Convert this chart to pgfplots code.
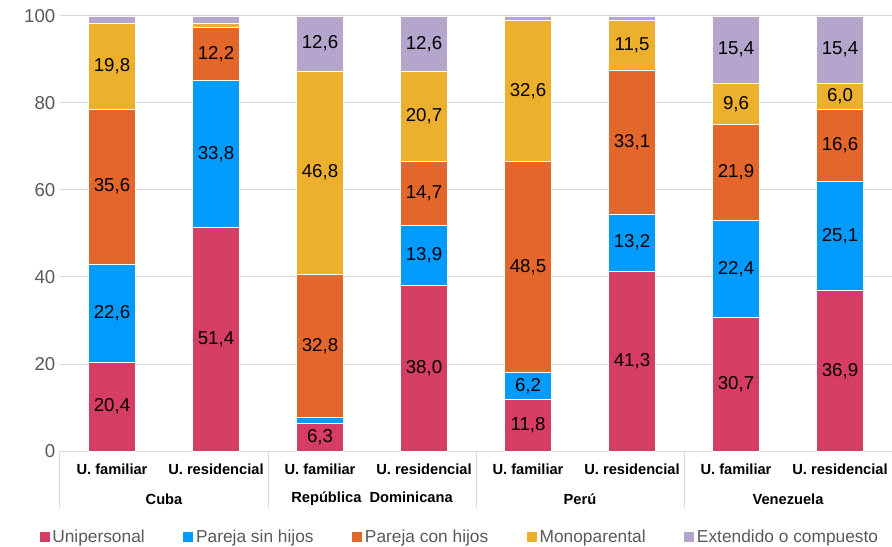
\documentclass[border=0pt]{standalone}
\usepackage{pgfplots}
\pgfplotsset{compat=1.18}
\usepackage{pgfplotstable}
\usepackage{fontspec}
\setmainfont{Liberation Sans}
\definecolor{cuni}{HTML}{D63D62}
\definecolor{csin}{HTML}{009BFC}
\definecolor{ccon}{HTML}{E3662B}
\definecolor{cmono}{HTML}{EDB02D}
\definecolor{cext}{HTML}{B4A5CC}
\definecolor{cgrid}{HTML}{D9D9D9}
\definecolor{tgrey}{HTML}{595959}

\pgfplotstableread{
x uni sin con mono ext
0 20.4 22.6 35.6 19.8 1.6
1 51.4 33.8 12.2 1.0 1.6
2 6.3 1.5 32.8 46.8 12.6
3 38.0 13.9 14.7 20.7 12.6
4 11.8 6.2 48.5 32.6 0.9
5 41.3 13.2 33.1 11.5 0.9
6 30.7 22.4 21.9 9.6 15.4
7 36.9 25.1 16.6 6.0 15.4
}\datatab

\pgfplotsset{
  segstyle/.style={fill=#1, draw=white, line width=0.4pt},
  calcfix/.code={%
    \pgfkeys{/pgf/fpu=true,/pgf/fpu/output format=fixed}%
    \pgfmathparse{\rawy}\global\let\rawfix\pgfmathresult
    \pgfkeys{/pgf/fpu=false}%
  },
}

\begin{document}
\begin{tikzpicture}
\begin{axis}[
  scale only axis, width=624pt, height=326.25pt,
  ybar stacked, bar width=35.25pt,
  xmin=-0.5, xmax=7.5, ymin=0, ymax=100,
  xtick={0,...,7},
  xticklabels={U. familiar, U. residencial, U. familiar, U. residencial, U. familiar, U. residencial, U. familiar, U. residencial},
  ytick={0,20,...,100},
  ymajorgrids, grid style={color=cgrid, line width=0.75pt},
  axis line style={draw=none},
  major tick length=0pt,
  x tick label style={font=\fontsize{11}{13}\selectfont\bfseries, anchor=center, yshift=-13.5pt},
  y tick label style={font=\fontsize{14}{16}\selectfont, color=tgrey},
  /pgf/number format/assume math mode=true,
  clip=false,
  nodes near coords={\ifdim\rawfix pt>3pt\pgfmathprintnumber[fixed,fixed zerofill,precision=1,use comma]{\rawfix}\fi},
  every node near coord/.append style={/pgfplots/calcfix, font=\fontsize{14}{16}\selectfont, text=black, anchor=center},
  legend style={at={(0.481,0)}, anchor=center, yshift=-64.5pt, draw=none, fill=none,
    font=\fontsize{13}{15}\selectfont, text=tgrey,
    /tikz/every even column/.append style={column sep=27pt}},
  legend columns=-1,
  legend image code/.code={\path[#1, draw=none] (0pt,-3.75pt) rectangle (7.5pt,3.75pt);},
]
\addplot[segstyle=cuni, visualization depends on={\thisrow{uni}\as\rawy}] table[x=x,y=uni]{\datatab};
\addplot[segstyle=csin, visualization depends on={\thisrow{sin}\as\rawy}] table[x=x,y=sin]{\datatab};
\addplot[segstyle=ccon, visualization depends on={\thisrow{con}\as\rawy}] table[x=x,y=con]{\datatab};
\addplot[segstyle=cmono, visualization depends on={\thisrow{mono}\as\rawy}] table[x=x,y=mono]{\datatab};
\addplot[segstyle=cext, visualization depends on={\thisrow{ext}\as\rawy}] table[x=x,y=ext]{\datatab};
\legend{Unipersonal, Pareja sin hijos, Pareja con hijos, Monoparental, Extendido o compuesto}

\draw[cgrid, line width=0.75pt] (axis cs:-0.5,0) -- ++(0pt,-43pt);
\draw[cgrid, line width=0.75pt] (axis cs:1.5,0) -- ++(0pt,-43pt);
\draw[cgrid, line width=0.75pt] (axis cs:3.5,0) -- ++(0pt,-43pt);
\draw[cgrid, line width=0.75pt] (axis cs:5.5,0) -- ++(0pt,-43pt);
\node[font=\fontsize{11}{13}\selectfont\bfseries] at ([yshift=-36pt]axis cs:0.5,0) {Cuba};
\node[font=\fontsize{11}{13}\selectfont\bfseries] at ([yshift=-36pt]axis cs:2.5,0) {República\ \ Dominicana};
\node[font=\fontsize{11}{13}\selectfont\bfseries] at ([yshift=-36pt]axis cs:4.5,0) {Perú};
\node[font=\fontsize{11}{13}\selectfont\bfseries] at ([yshift=-36pt]axis cs:6.5,0) {Venezuela};
\end{axis}
\pgfresetboundingbox
\path ([shift={(-45pt,-71.25pt)}]current axis.south west) rectangle ([shift={(0pt,12pt)}]current axis.north east);
\end{tikzpicture}
\end{document}
